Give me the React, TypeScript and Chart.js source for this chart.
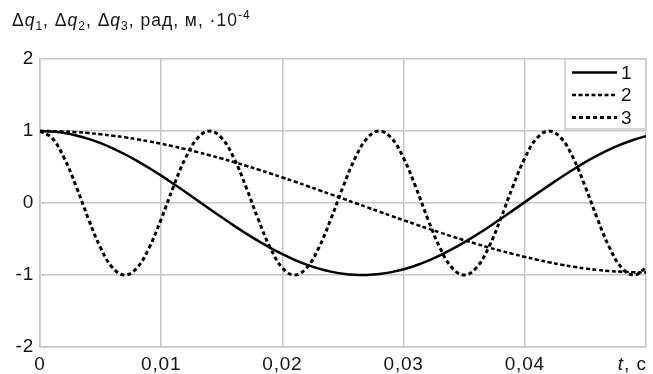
import React, { useEffect, useRef } from 'react';
import { Chart, registerables } from 'chart.js';

Chart.register(...registerables);

// time, s
const T = [
  0, 0.001, 0.002, 0.003, 0.004, 0.005, 0.006, 0.007, 0.008, 0.009,
  0.01, 0.011, 0.012, 0.013, 0.014, 0.015, 0.016, 0.017, 0.018, 0.019,
  0.02, 0.021, 0.022, 0.023, 0.024, 0.025, 0.026, 0.027, 0.028, 0.029,
  0.03, 0.031, 0.032, 0.033, 0.034, 0.035, 0.036, 0.037, 0.038, 0.039,
  0.04, 0.041, 0.042, 0.043, 0.044, 0.045, 0.046, 0.047, 0.048, 0.049,
  0.05,
];

// Δq1 (solid)
const Q1 = [
  1, 0.993, 0.972, 0.938, 0.89, 0.831, 0.759, 0.677, 0.586, 0.486,
  0.38, 0.268, 0.153, 0.035, -0.083, -0.199, -0.314, -0.423, -0.527, -0.623,
  -0.711, -0.789, -0.856, -0.911, -0.953, -0.982, -0.997, -0.999, -0.986, -0.96,
  -0.92, -0.868, -0.803, -0.728, -0.642, -0.547, -0.444, -0.336, -0.222, -0.106,
  0.012, 0.13, 0.245, 0.358, 0.466, 0.567, 0.66, 0.744, 0.817, 0.879,
  0.929,
];

// Δq2 (fine dashes)
const Q2 = [
  1, 0.998, 0.993, 0.984, 0.971, 0.955, 0.935, 0.912, 0.885, 0.856,
  0.823, 0.787, 0.748, 0.707, 0.663, 0.617, 0.568, 0.517, 0.465, 0.41,
  0.355, 0.298, 0.239, 0.18, 0.12, 0.06, 0, -0.06, -0.12, -0.18,
  -0.239, -0.298, -0.355, -0.41, -0.465, -0.517, -0.568, -0.617, -0.663, -0.707,
  -0.748, -0.787, -0.823, -0.856, -0.885, -0.91, -0.93, -0.945, -0.955, -0.962,
  -0.965,
];

// Δq3 (dashes, fast oscillation)
const Q3 = [
  1, 0.901, 0.623, 0.223, -0.223, -0.623, -0.901, -1, -0.901, -0.623,
  -0.223, 0.223, 0.623, 0.901, 1, 0.901, 0.623, 0.223, -0.223, -0.623,
  -0.901, -1, -0.901, -0.623, -0.223, 0.223, 0.623, 0.901, 1, 0.901,
  0.623, 0.223, -0.223, -0.623, -0.901, -1, -0.901, -0.623, -0.223, 0.223,
  0.623, 0.901, 1, 0.901, 0.623, 0.223, -0.223, -0.623, -0.901, -1,
  -0.901,
];

const SERIES_LABELS = ['1', '2', '3'];
const X_TICKS = [0, 0.01, 0.02, 0.03, 0.04, 0.05];
const X_TICK_LABELS = ['0', '0,01', '0,02', '0,03', '0,04', ''];
const Y_TICKS = [-2, -1, 0, 1, 2];
const X_TITLE = [
  { text: 't', italic: true },
  { text: ', c', italic: false },
];
const Y_TITLE = [
  { text: 'Δ', kind: 'n' },
  { text: 'q', kind: 'i' },
  { text: '1', kind: 'sub' },
  { text: ', ', kind: 'n' },
  { text: 'Δ', kind: 'n' },
  { text: 'q', kind: 'i' },
  { text: '2', kind: 'sub' },
  { text: ', ', kind: 'n' },
  { text: 'Δ', kind: 'n' },
  { text: 'q', kind: 'i' },
  { text: '3', kind: 'sub' },
  { text: ', рад, м, ·10', kind: 'n' },
  { text: '-4', kind: 'sup' },
];

const FONT = "'Liberation Sans', Arial, sans-serif";
const TEXT_COLOR = '#151515';
const GRID_COLOR = '#c6c6c6';

const overlayPlugin = {
  id: 'overlay',
  beforeDraw(chart: any) {
    (chart.ctx as any).letterSpacing = '0.8px';
  },
  afterDraw(chart: any) {
    const ctx = chart.ctx as CanvasRenderingContext2D & { letterSpacing?: string };
    const area = chart.chartArea;
    ctx.save();
    ctx.letterSpacing = '1px';
    ctx.fillStyle = TEXT_COLOR;
    ctx.textBaseline = 'alphabetic';
    ctx.textAlign = 'left';

    // Y title
    let x = 12;
    const base = 26;
    for (const p of Y_TITLE) {
      let font = `17.5px ${FONT}`;
      let dy = 0;
      if (p.kind === 'i') font = `italic 17.5px ${FONT}`;
      if (p.kind === 'sub') { font = `12px ${FONT}`; dy = 4; }
      if (p.kind === 'sup') { font = `12px ${FONT}`; dy = -7; }
      ctx.font = font;
      ctx.fillText(p.text, x, base + dy);
      x += ctx.measureText(p.text).width;
    }

    // X title at right end of axis
    let total = 0;
    for (const p of X_TITLE) {
      ctx.font = `${p.italic ? 'italic ' : ''}19px ${FONT}`;
      total += ctx.measureText(p.text).width;
    }
    let tx = area.right - total + 1;
    const tb = area.bottom + 23;
    for (const p of X_TITLE) {
      ctx.font = `${p.italic ? 'italic ' : ''}19px ${FONT}`;
      ctx.fillText(p.text, tx, tb);
      tx += ctx.measureText(p.text).width;
    }

    // Legend box (top right inside plot)
    const bx0 = 565;
    const bx1 = area.right;
    const by0 = area.top;
    const by1 = area.top + 70;
    ctx.fillStyle = '#ffffff';
    ctx.fillRect(bx0, by0, bx1 - bx0, by1 - by0);
    ctx.strokeStyle = GRID_COLOR;
    ctx.lineWidth = 1.5;
    ctx.strokeRect(bx0, by0, bx1 - bx0, by1 - by0);
    chart.data.datasets.forEach((ds: any, i: number) => {
      const ry = by0 + 13.5 + i * 22.5;
      ctx.save();
      ctx.strokeStyle = ds.borderColor;
      ctx.lineWidth = ds.borderWidth;
      ctx.setLineDash(ds.borderDash || []);
      ctx.beginPath();
      ctx.moveTo(bx0 + 7, ry);
      ctx.lineTo(bx0 + 52, ry);
      ctx.stroke();
      ctx.restore();
      ctx.fillStyle = TEXT_COLOR;
      ctx.font = `19px ${FONT}`;
      ctx.textBaseline = 'middle';
      ctx.fillText(SERIES_LABELS[i], bx0 + 56, ry + 1);
    });
    ctx.restore();
  },
};

export default function App() {
  const ref = useRef<HTMLCanvasElement | null>(null);
  useEffect(() => {
    if (!ref.current) return;
    const mk = (arr: number[]) => T.map((t, i) => ({ x: t, y: arr[i] }));
    const common = { borderColor: '#000000', pointRadius: 0, tension: 0.4 };
    const chart = new Chart(ref.current, {
      type: 'line',
      data: {
        datasets: [
          { ...common, label: SERIES_LABELS[0], data: mk(Q1), borderWidth: 2.5 },
          { ...common, label: SERIES_LABELS[1], data: mk(Q2), borderWidth: 2.5, borderDash: [4, 2.5] },
          { ...common, label: SERIES_LABELS[2], data: mk(Q3), borderWidth: 3, borderDash: [4, 3] },
        ],
      },
      options: {
        responsive: false,
        animation: false,
        events: [],
        layout: { padding: { top: 59, right: 7, left: 0, bottom: 0 } },
        plugins: {
          legend: { display: false },
          tooltip: { enabled: false },
          title: { display: false },
        },
        scales: {
          x: {
            type: 'linear',
            min: 0,
            max: 0.05,
            afterBuildTicks: (s: any) => { s.ticks = X_TICKS.map((v) => ({ value: v })); },
            afterFit: (s: any) => { s.height = 27; },
            ticks: {
              autoSkip: false,
              maxRotation: 0,
              padding: 6,
              color: TEXT_COLOR,
              font: { family: FONT, size: 19 },
              callback: (v: any) => {
                const i = X_TICKS.findIndex((t) => Math.abs(t - Number(v)) < 1e-9);
                return i >= 0 ? X_TICK_LABELS[i] : '';
              },
            },
            grid: { color: GRID_COLOR, lineWidth: 1.5, drawTicks: false },
            border: { display: true, color: GRID_COLOR, width: 1.5 },
          },
          y: {
            type: 'linear',
            min: -2,
            max: 2,
            afterBuildTicks: (s: any) => { s.ticks = Y_TICKS.map((v) => ({ value: v })); },
            afterFit: (s: any) => { s.width = 40; },
            ticks: {
              padding: 6,
              color: TEXT_COLOR,
              font: { family: FONT, size: 19 },
              callback: (v: any) => String(v),
            },
            grid: { color: GRID_COLOR, lineWidth: 1.5, drawTicks: false },
            border: { display: true, color: GRID_COLOR, width: 1.5 },
          },
        },
      } as any,
      plugins: [overlayPlugin],
    });
    return () => chart.destroy();
  }, []);
  return (
    <div style={{ position: 'absolute', left: 0, top: 0, width: 653, height: 374, background: '#fff' }}>
      <canvas ref={ref} width={653} height={374} style={{ display: 'block' }} />
    </div>
  );
}
